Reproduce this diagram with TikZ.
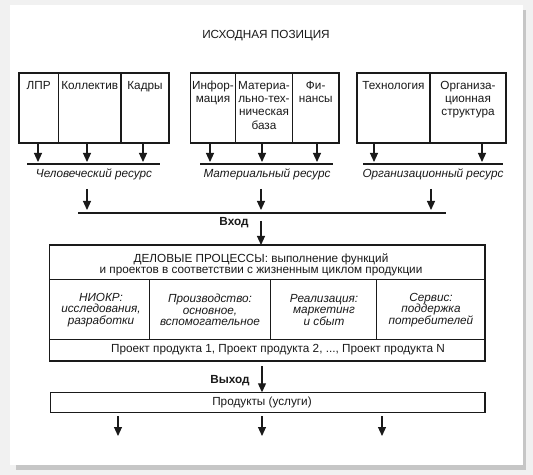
\documentclass[tikz,border=0pt]{standalone}
\usepackage{fontspec}
\setmainfont{Liberation Sans}
\usetikzlibrary{arrows.meta}
\definecolor{ink}{HTML}{1A1A1A}
\definecolor{bgc}{HTML}{F1F1F1}
\definecolor{shad}{HTML}{C6C6C6}
\begin{document}
\begin{tikzpicture}[x=1bp,y=-1bp,
  frame/.style={draw=ink,line width=1.2bp},
  conn/.style={draw=ink,line width=1.1bp},
  arr/.style={conn,-{Triangle[width=8bp,length=9bp]}},
  lbl/.style={inner sep=0pt,align=center,text=ink,font=\fontsize{11.8}{13.3}\selectfont},
  ilbl/.style={lbl,font=\fontsize{11.8}{11.7}\selectfont\itshape},
  blbl/.style={lbl,font=\fontsize{11.8}{13}\selectfont\bfseries}]
\useasboundingbox (0,0) rectangle (533,475);
\fill[bgc] (0,0) rectangle (533,475);
\fill[shad] (16,10) rectangle (526,470);
\fill[white] (10,5) rectangle (523,465);

% title
\node[lbl] (title) at (266,36) {ИСХОДНАЯ ПОЗИЦИЯ};

% top frames
\draw[frame] (19,73) rectangle (169,143);
\draw[frame] (58.5,73) -- (58.5,143);
\draw[frame] (121,73) -- (121,143);
\draw[frame] (190.7,73) rectangle (339,143);
\draw[frame] (235.7,73) -- (235.7,143);
\draw[frame] (292.3,73) -- (292.3,143);
\draw[frame] (357,73) rectangle (506,143);
\draw[frame] (430,73) -- (430,143);

\node[lbl,anchor=north] (lpr) at (38.7,81) {ЛПР};
\node[lbl,anchor=north] (koll) at (89.7,81) {Коллектив};
\node[lbl,anchor=north] (kadry) at (145,81) {Кадры};
\node[lbl,anchor=north] (info) at (213,81) {Инфор-\\мация};
\node[lbl,anchor=north] (mtb) at (264,81) {Материа-\\льно-тех-\\ническая\\база};
\node[lbl,anchor=north] (fin) at (315.7,81) {Фи-\\нансы};
\node[lbl,anchor=north] (tech) at (393.5,81) {Технология};
\node[lbl,anchor=north] (orgs) at (468,81) {Организа-\\ционная\\структура};

% resource arrows
\foreach \n/\x in {h1/38,h2/87,h3/143,m1/210,m2/262,m3/317,o1/374,o2/482}{
  \coordinate (\n t) at (\x,143);
  \coordinate (\n b) at (\x,162);
  \draw[arr] (\n t) -- (\n b);
}
\coordinate (hl1) at (27,164);  \coordinate (hl2) at (160,164);
\coordinate (ml1) at (200,164); \coordinate (ml2) at (333,164);
\coordinate (ol1) at (363,164); \coordinate (ol2) at (503,164);
\draw[conn] (hl1) -- (hl2);
\draw[conn] (ml1) -- (ml2);
\draw[conn] (ol1) -- (ol2);

\node[ilbl] (hum) at (94,174) {Человеческий ресурс};
\node[ilbl] (mat) at (267,174) {Материальный ресурс};
\node[ilbl] (org) at (433,174) {Организационный ресурс};

% into input line
\foreach \n/\x in {v1/87,v2/261,v3/431}{
  \coordinate (\n t) at (\x,189);
  \coordinate (\n b) at (\x,210);
  \draw[arr] (\n t) -- (\n b);
}
\coordinate (in1) at (78,213); \coordinate (in2) at (446,213);
\draw[conn] (in1) -- (in2);

\node[blbl] (vhod) at (234,223) {Вход};
\coordinate (vhs) at (261,221); \coordinate (vhe) at (261,245);
\draw[arr] (vhs) -- (vhe);

% main box
\draw[frame] (49.5,245) rectangle (485,361);
\draw[frame] (49.5,279.3) -- (485,279.3);
\draw[frame] (49.5,339.3) -- (485,339.3);
\draw[frame] (149.3,279.3) -- (149.3,339.3);
\draw[frame] (270.7,279.3) -- (270.7,339.3);
\draw[frame] (376.7,279.3) -- (376.7,339.3);

\node[lbl,font=\fontsize{11.8}{11}\selectfont] (dp) at (261,264.5) {ДЕЛОВЫЕ ПРОЦЕССЫ: выполнение функций\\и проектов в соответствии с жизненным циклом продукции};
\node[ilbl] (niokr) at (101,310) {НИОКР:\\исследования,\\разработки};
\node[ilbl] (proizv) at (210,310) {Производство:\\основное,\\вспомогательное};
\node[ilbl] (real) at (324,310) {Реализация:\\маркетинг\\и сбыт};
\node[ilbl] (serv) at (431,310) {Сервис:\\поддержка\\потребителей};
\node[lbl] (proj) at (278,350) {Проект продукта 1, Проект продукта 2, ..., Проект продукта N};

% output
\node[blbl] (vyhod) at (230,381) {Выход};
\coordinate (vys) at (262,366); \coordinate (vye) at (262,392.3);
\draw[arr] (vys) -- (vye);

\draw[frame] (50.5,392.3) rectangle (485,412.7);
\node[lbl] (prod) at (262,402.5) {Продукты (услуги)};

\foreach \n/\x in {p1/118,p2/262,p3/382}{
  \coordinate (\n t) at (\x,416);
  \coordinate (\n b) at (\x,436);
  \draw[arr] (\n t) -- (\n b);
}
\end{tikzpicture}
\end{document}
